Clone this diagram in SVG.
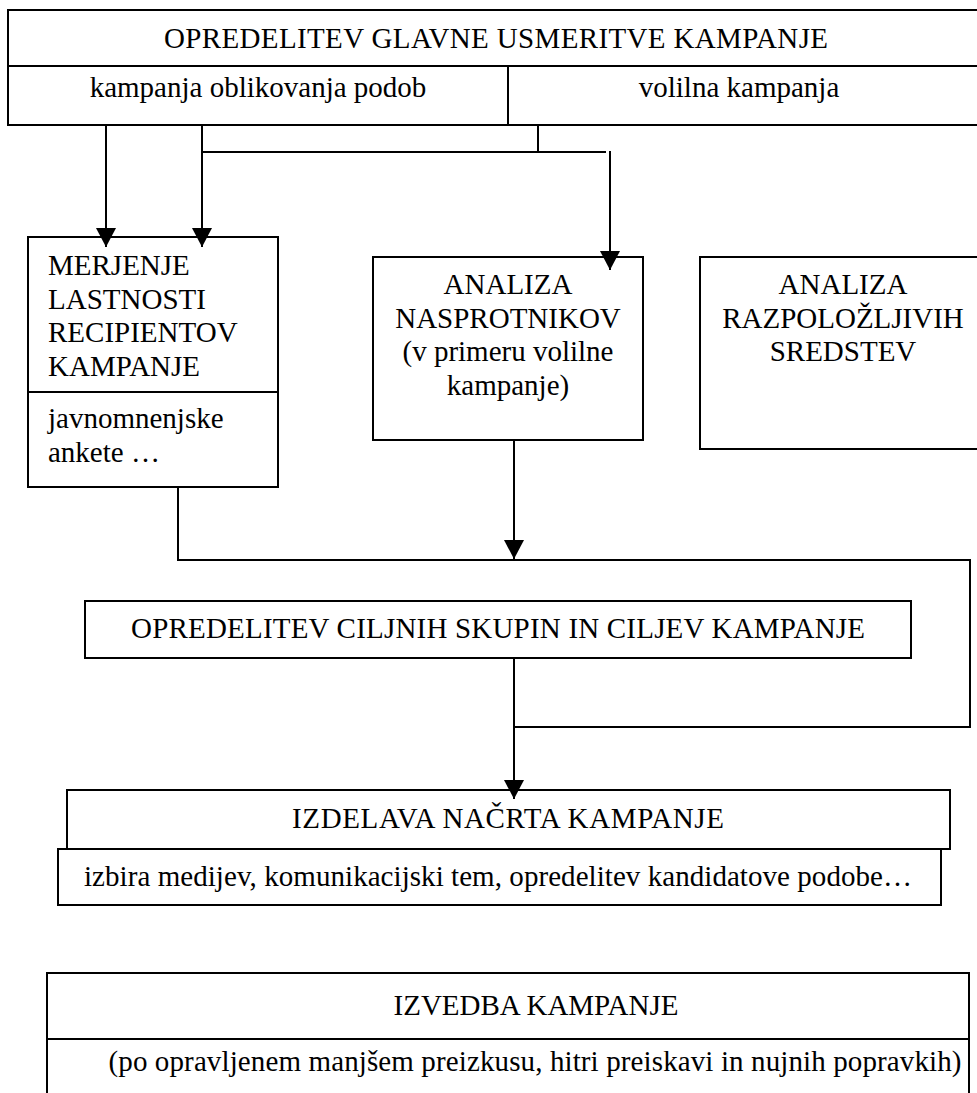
<svg xmlns="http://www.w3.org/2000/svg" width="977" height="1093" viewBox="0 0 977 1093">
<style>
.box{fill:#fff;stroke:#000;stroke-width:2}
.ln{fill:none;stroke:#000;stroke-width:2}
text{font-family:'Liberation Serif','Times New Roman','DejaVu Serif',serif;font-size:29px;fill:#000}
.c{text-anchor:middle}
</style>
<defs>
<marker id="ah" markerUnits="userSpaceOnUse" viewBox="0 0 19 20" refX="19" refY="10" markerWidth="19" markerHeight="20" orient="auto">
<path d="M0,0 L19,10 L0,20 Z" fill="#000"/>
</marker>
</defs>
<rect width="977" height="1093" fill="#fff"/>

<g id="usmeritev">
<rect class="box" x="8" y="10" width="1000" height="115"/>
<line class="ln" x1="8" y1="66" x2="977" y2="66"/>
<line class="ln" x1="508" y1="66" x2="508" y2="125"/>
<text class="c" x="496" y="48" textLength="664" lengthAdjust="spacing">OPREDELITEV GLAVNE USMERITVE KAMPANJE</text>
<text class="c" x="258" y="97">kampanja oblikovanja podob</text>
<text class="c" x="739" y="97">volilna kampanja</text>
</g>

<g id="merjenje">
<rect class="box" x="28" y="237" width="250" height="250"/>
<line class="ln" x1="28" y1="392" x2="278" y2="392"/>
<text x="48" y="275">MERJENJE</text>
<text x="48" y="309">LASTNOSTI</text>
<text x="48" y="342">RECIPIENTOV</text>
<text x="48" y="376">KAMPANJE</text>
<text x="48" y="428">javnomnenjske</text>
<text x="48" y="462">ankete …</text>
</g>

<g id="nasprotniki">
<rect class="box" x="373" y="257" width="270" height="183"/>
<text class="c" x="508" y="294">ANALIZA</text>
<text class="c" x="508" y="328">NASPROTNIKOV</text>
<text class="c" x="508" y="361">(v primeru volilne</text>
<text class="c" x="508" y="395">kampanje)</text>
</g>

<g id="sredstva">
<rect class="box" x="700" y="257" width="320" height="192"/>
<text class="c" x="843" y="294">ANALIZA</text>
<text class="c" x="843" y="328">RAZPOLOŽLJIVIH</text>
<text class="c" x="843" y="361">SREDSTEV</text>
</g>

<g id="ciljne-skupine">
<rect class="box" x="85" y="601" width="826" height="57"/>
<text class="c" x="498" y="638" textLength="734" lengthAdjust="spacing">OPREDELITEV CILJNIH SKUPIN IN CILJEV KAMPANJE</text>
</g>

<g id="nacrt">
<rect class="box" x="67" y="790" width="883" height="59"/>
<text class="c" x="508" y="828" textLength="432" lengthAdjust="spacing">IZDELAVA NAČRTA KAMPANJE</text>
<rect class="box" x="58" y="849" width="883" height="56"/>
<text class="c" x="498" y="886" textLength="828" lengthAdjust="spacing">izbira medijev, komunikacijski tem, opredelitev kandidatove podobe…</text>
</g>

<g id="izvedba">
<rect class="box" x="47" y="973" width="922" height="140"/>
<line class="ln" x1="47" y1="1039" x2="969" y2="1039"/>
<text class="c" x="536" y="1015">IZVEDBA KAMPANJE</text>
<text class="c" x="535" y="1071" textLength="853" lengthAdjust="spacing">(po opravljenem manjšem preizkusu, hitri preiskavi in nujnih popravkih)</text>
</g>

<g id="connectors">
<line class="ln" x1="106" y1="125" x2="106" y2="247" marker-end="url(#ah)"/>
<line class="ln" x1="202" y1="125" x2="202" y2="247" marker-end="url(#ah)"/>
<path class="ln" d="M538,125 V152 M202,152 H606"/>
<line class="ln" x1="610" y1="151" x2="610" y2="270" marker-end="url(#ah)"/>
<path class="ln" d="M178,487 V560 H970 V727 H514"/>
<line class="ln" x1="514" y1="440" x2="514" y2="559" marker-end="url(#ah)"/>
<line class="ln" x1="514" y1="658" x2="514" y2="799" marker-end="url(#ah)"/>
</g>
</svg>
